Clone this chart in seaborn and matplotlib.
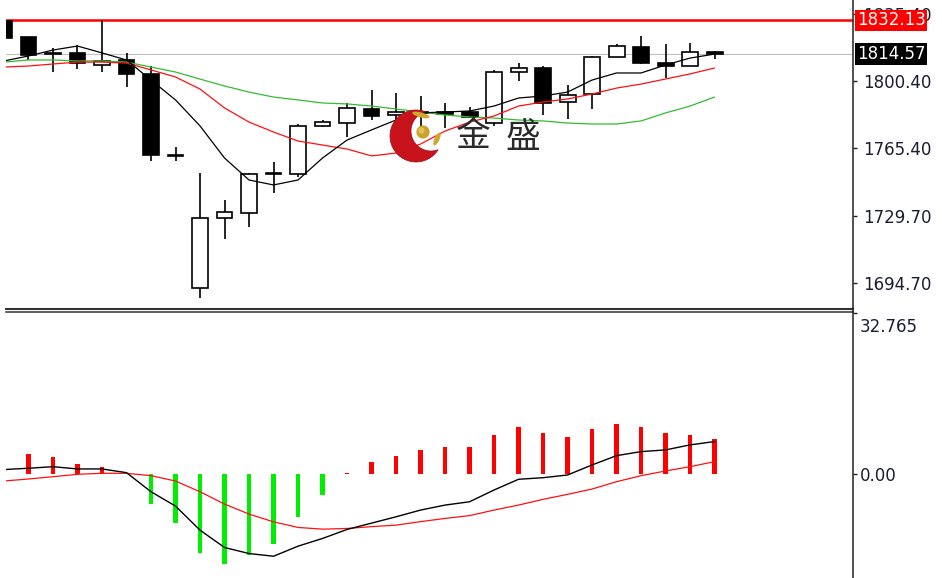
import numpy as np
import matplotlib
matplotlib.use("Agg")
import matplotlib.pyplot as plt
from matplotlib.patches import Polygon, Circle, Ellipse
from matplotlib.lines import Line2D
import seaborn as sns

# candles (oldest -> newest)
opens = [1831.6, 1823.4, 1815.0, 1815.0, 1808.8, 1811.4, 1804.1, 1761.6, 1692.1, 1728.7,
         1731.3, 1751.7, 1751.7, 1777.1, 1778.4, 1785.75, 1782.6, 1784.0, 1784.2, 1784.2,
         1778.3, 1805.1, 1807.2, 1789.4, 1793.6, 1813.0, 1818.2, 1809.8, 1808.0, 1815.6]
highs = [1832.0, 1823.4, 1817.7, 1819.2, 1832.13, 1815.0, 1808.2, 1765.9, 1752.3, 1738.1,
         1752.2, 1758.0, 1777.9, 1780.0, 1788.9, 1795.7, 1794.1, 1792.6, 1788.9, 1786.8,
         1806.2, 1810.0, 1808.2, 1798.3, 1813.6, 1819.6, 1823.9, 1819.6, 1820.1, 1816.3]
lows = [1822.5, 1811.4, 1805.1, 1806.7, 1805.1, 1797.3, 1758.5, 1758.5, 1686.8, 1717.7,
        1724.0, 1741.8, 1750.2, 1776.3, 1771.1, 1780.0, 1774.8, 1775.8, 1775.8, 1781.0,
        1776.85, 1800.4, 1782.6, 1780.5, 1785.75, 1813.0, 1809.1, 1801.8, 1808.0, 1811.8]
closes = [1823.0, 1814.0, 1814.4, 1809.8, 1810.9, 1804.1, 1761.7, 1761.3, 1728.7, 1731.85,
          1751.7, 1752.2, 1776.85, 1778.9, 1786.3, 1782.1, 1784.2, 1783.5, 1782.9, 1781.6,
          1805.1, 1807.2, 1788.9, 1793.1, 1813.0, 1818.7, 1809.8, 1808.0, 1815.6, 1814.57]

# moving averages
ma_black = [1810.9, 1813.5, 1816.6, 1818.7, 1815.1, 1811.4, 1800.9, 1790.5, 1776.9, 1760.1,
            1748.6, 1746.0, 1748.6, 1760.1, 1769.5, 1774.8, 1780.0, 1783.7, 1784.2, 1784.7,
            1787.3, 1791.5, 1792.55, 1794.6, 1800.9, 1804.6, 1804.6, 1808.8, 1812.4, 1814.5]
ma_red = [1807.7, 1808.25, 1809.3, 1810.3, 1810.3, 1809.8, 1806.2, 1802.5, 1796.2, 1786.3,
          1778.9, 1773.7, 1769.0, 1766.9, 1764.8, 1761.2, 1762.7, 1767.4, 1774.2, 1778.9,
          1782.1, 1787.3, 1789.4, 1791.0, 1793.6, 1796.7, 1798.8, 1801.45, 1804.1, 1807.2]
ma_green = [1810.3, 1811.4, 1811.4, 1810.9, 1810.9, 1810.3, 1807.7, 1805.1, 1801.4, 1797.8,
            1794.6, 1792.0, 1790.5, 1788.9, 1788.4, 1787.3, 1785.75, 1784.2, 1782.6, 1781.6,
            1781.0, 1780.0, 1779.5, 1778.4, 1777.9, 1777.9, 1779.5, 1783.7, 1787.3, 1792.0]

# MACD sub window
macd_hist = [4.5, 4.1, 3.6, 2.1, 1.6, 0.0, -6.05, -9.9, -15.8, -18.2,
             -16.2, -14.1, -8.55, -4.15, 0.2, 2.5, 3.8, 5.0, 5.5, 5.5,
             8.0, 9.7, 8.35, 7.5, 9.2, 10.25, 9.7, 8.35, 8.0, 7.2]
dif = [1.0, 1.26, 1.58, 1.12, 1.12, 0.37, -3.49, -6.39, -11.26, -14.77,
       -15.99, -16.54, -14.5, -12.94, -11.12, -9.84, -8.56, -7.2, -6.19, -5.52,
       -3.14, -0.97, -0.65, -0.1, 1.93, 3.81, 4.63, 4.97, 5.99, 6.66]
dea = [-1.32, -0.91, -0.45, 0.04, 0.24, 0.24, -0.24, -1.32, -3.49, -5.99,
       -8.01, -9.58, -10.71, -11.06, -10.92, -10.55, -10.25, -9.54, -8.89, -8.32,
       -7.2, -6.19, -5.03, -4.02, -2.94, -1.46, -0.24, 0.71, 1.58, 2.6]

price_ticks = [1694.70, 1729.70, 1765.40, 1800.40, 1835.40]
high_line = 1832.13
last_price = 1814.57
macd_top = 32.765

W, H = 942, 578


def px_rect(x0, y0, x1, y1):
    return [x0 / W, 1 - y1 / H, (x1 - x0) / W, (y1 - y0) / H]


def crescent(c1, r1, c2, r2, n=400):
    c1 = np.array(c1, float)
    c2 = np.array(c2, float)
    d = c1 - c2
    base = np.arctan2(d[1], d[0])
    t = np.linspace(-np.pi, np.pi, n)
    ring = np.c_[np.cos(base + t), np.sin(base + t)]
    outer = c1 + r1 * ring
    outer = outer[np.hypot(*(outer - c2).T) >= r2]
    inner = c2 + r2 * ring
    inner = inner[np.hypot(*(inner - c1).T) <= r1][::-1]
    return np.vstack([outer, inner])


sns.set_style("white")
plt.rcParams['font.family'] = ['DejaVu Sans', 'Noto Sans CJK SC']

fig = plt.figure(figsize=(W / 100, H / 100), dpi=100)
ax = fig.add_axes(px_rect(6, 0, 853, 308.5))
ax2 = fig.add_axes(px_rect(6, 312, 853, 578))

x = np.arange(len(opens))
o = np.array(opens)
c = np.array(closes)
up = c >= o
xlim = (0.082, 34.65)

# PRICE PANEL
ax.axhline(high_line, color='#ff0000', lw=1.8, zorder=2)
ax.axhline(last_price, color='#c0c0c0', lw=0.8, zorder=1)

ax.vlines(x, lows, highs, color='black', lw=1.2, zorder=3)
ax.bar(x, np.maximum(np.abs(c - o), 0.25), width=0.65, bottom=np.minimum(o, c),
       color=np.where(up, 'white', 'black'), edgecolor='black', lw=1.2, zorder=4)

sns.lineplot(x=x, y=ma_green, color='#33bb33', lw=0.9, ax=ax, zorder=5)
sns.lineplot(x=x, y=ma_red, color='#ff1010', lw=0.9, ax=ax, zorder=5)
sns.lineplot(x=x, y=ma_black, color='black', lw=0.9, ax=ax, zorder=5)

ax.set_xlim(*xlim)
ax.set_ylim(1681.35, 1842.79)
ax.set_yticks(price_ticks)
ax.set_yticklabels([f'{v:.2f}' for v in price_ticks])

# MACD PANEL
hist = np.array(macd_hist)
ax2.bar(x, hist, width=0.17, color=np.where(hist >= 0, '#ff0000', '#00ee00'), lw=0, zorder=2)
sns.lineplot(x=x, y=dea, color='#ff1010', lw=0.9, ax=ax2, zorder=3)
sns.lineplot(x=x, y=dif, color='black', lw=1.0, ax=ax2, zorder=3)
ax2.set_xlim(*xlim)
ax2.set_ylim(-20.94, 32.87)
ax2.set_yticks([0, macd_top])
ax2.set_yticklabels(['0.00', ''])

for a, pad in ((ax, 4), (ax2, 2)):
    a.set_xlabel('')
    a.set_ylabel('')
    a.set_xticks([])
    a.yaxis.tick_right()
    a.tick_params(axis='y', direction='out', length=3, width=1, color='#222222',
                  labelcolor='#1c1c30', labelsize=12, pad=pad)
    a.spines['left'].set_visible(False)
    a.spines['right'].set_color('#222222')
    a.spines['right'].set_linewidth(1.1)
    a.set_facecolor('white')

ax.spines['top'].set_visible(False)
ax.spines['bottom'].set_color('#333333')
ax.spines['bottom'].set_linewidth(1.5)
ax2.spines['bottom'].set_visible(False)
ax2.spines['top'].set_color('#333333')
ax2.spines['top'].set_linewidth(1.1)
fig.add_artist(Line2D([853 / W, 853 / W], [1 - 312 / H, 1 - 308 / H], color='#222222', lw=1.1))

# top value of the MACD window sits just under its tick
ax2.annotate(f'{macd_top:.3f}', xy=(1.0, macd_top), xycoords=ax2.get_yaxis_transform(),
             xytext=(5, -4), textcoords='offset points', ha='left', va='top',
             color='#1c1c30', fontsize=12, annotation_clip=False)

# price labels on the axis
ax.text(1.0045, high_line, f'{high_line:.2f}', transform=ax.get_yaxis_transform(),
        ha='left', va='center', color='white', fontsize=12, zorder=10, clip_on=False,
        bbox=dict(boxstyle='square,pad=0.1', fc='#ff0000', ec='none'))
ax.text(1.0045, last_price, f'{last_price:.2f}', transform=ax.get_yaxis_transform(),
        ha='left', va='center', color='white', fontsize=12, zorder=10, clip_on=False,
        bbox=dict(boxstyle='square,pad=0.1', fc='black', ec='none'))

# watermark logo
logo = fig.add_axes([0, 0, 1, 1], zorder=10)
logo.set_xlim(0, W)
logo.set_ylim(H, 0)
logo.axis('off')
logo.patch.set_alpha(0)
logo.add_patch(Polygon(crescent((416, 136), 26, (431, 131), 20), closed=True,
                       fc='#c8121c', ec='#a00d15', lw=0.5))
logo.add_patch(Circle((423, 132), 6.6, fc='#c9a22a', ec='none'))
logo.add_patch(Circle((421.5, 130.5), 3.2, fc='#e2c35a', ec='none'))
logo.add_patch(Ellipse((421, 115), 18, 5, angle=15, fc='#d0a830', ec='none'))
logo.add_patch(Ellipse((437, 139), 14, 5, angle=-65, fc='#d0a830', ec='none'))
logo.text(473, 137, '金', fontsize=25, color='#2a2a2a', ha='center', va='center',
          family=['Noto Sans CJK SC'])
logo.text(523, 137, '盛', fontsize=25, color='#2a2a2a', ha='center', va='center',
          family=['Noto Sans CJK SC'])

plt.savefig('out.png', dpi=100)
